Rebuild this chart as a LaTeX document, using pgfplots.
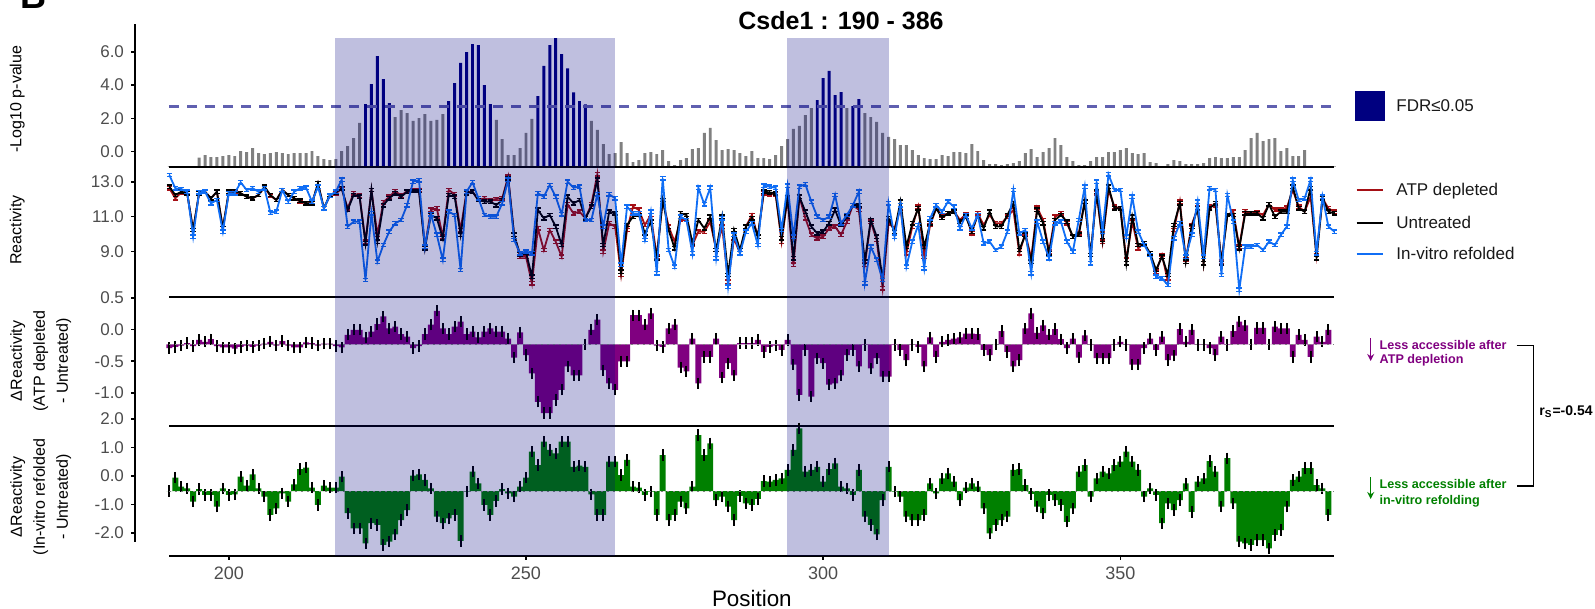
\documentclass[border=0pt]{standalone}
\usepackage{fontspec}
\setmainfont{Liberation Sans}
\usepackage{pgfplots}
\pgfplotsset{compat=1.18}
\usepackage{pgfplotstable}
\usetikzlibrary{arrows.meta}

\definecolor{navyc}{RGB}{0,0,128}
\definecolor{fdrgray}{RGB}{128,128,128}
\definecolor{atpred}{RGB}{165,15,21}
\definecolor{invblue}{RGB}{16,110,245}
\definecolor{purp}{RGB}{128,0,128}
\definecolor{grn}{RGB}{0,128,0}
\definecolor{thr}{RGB}{96,96,176}
\definecolor{ticklab}{RGB}{77,77,77}

% -log10 p-value bars (height above panel floor)
\pgfplotstableread{
p h
190 0.04
191 0.04
192 0.04
193 0.04
194 0.04
195 0.54
196 0.70
197 0.58
198 0.58
199 0.64
200 0.70
201 0.64
202 0.94
203 0.88
204 1.12
205 0.82
206 0.76
207 0.82
208 0.88
209 0.82
210 0.76
211 0.82
212 0.82
213 0.82
214 0.94
215 0.64
216 0.46
217 0.40
218 0.46
219 0.94
220 1.24
221 1.72
222 2.63
228 2.99
229 3.41
230 3.23
231 2.75
232 2.93
233 3.17
234 2.75
235 2.81
236 3.17
245 2.81
246 1.66
247 0.70
248 0.70
249 1.12
250 2.03
251 2.87
261 2.75
262 2.21
263 1.36
264 0.76
265 0.82
266 1.48
267 0.82
268 0.28
269 0.40
270 0.82
271 0.88
272 0.76
273 1.00
274 0.34
275 0.10
276 0.40
277 0.52
278 1.06
279 1.12
280 2.03
281 2.33
282 1.60
283 1.00
284 1.06
285 1.00
286 0.82
287 0.64
288 0.94
289 0.52
290 0.52
291 0.46
292 0.70
293 1.24
294 1.66
295 2.27
296 2.45
297 3.11
298 3.53
304 3.53
307 3.23
308 2.99
309 2.69
310 2.03
311 1.79
312 1.66
313 1.30
314 1.30
315 1.00
316 0.70
317 0.52
318 0.46
319 0.46
320 0.70
321 0.64
322 0.88
323 0.88
324 0.82
325 1.36
326 0.94
327 0.40
328 0.16
329 0.16
330 0.10
331 0.16
332 0.22
333 0.34
334 0.82
335 1.06
336 0.58
337 0.88
338 1.12
339 1.72
340 1.30
341 0.58
342 0.34
343 0.10
344 0.10
345 0.34
346 0.58
347 0.58
348 0.88
349 0.88
350 1.00
351 1.12
352 0.82
353 0.76
354 0.82
355 0.28
356 0.22
357 0.04
358 0.16
359 0.40
360 0.34
361 0.16
362 0.16
363 0.16
364 0.22
365 0.52
366 0.58
367 0.52
368 0.52
369 0.58
370 0.58
371 1.00
372 1.72
373 2.03
374 1.54
375 1.66
376 1.72
377 0.94
378 1.12
379 0.64
380 0.64
381 1.00
382 0.04
383 0.04
384 0.04
385 0.04
386 0.04
}\pgray

\pgfplotstableread{
p h
223 3.77
224 4.97
225 6.66
226 5.27
227 3.83
237 3.95
238 5.03
239 6.24
240 6.90
241 7.38
242 7.32
243 4.91
244 3.77
252 4.25
253 6.06
254 7.32
255 7.74
256 6.78
257 5.92
258 4.47
259 3.95
260 3.75
299 4.01
300 5.33
301 5.76
302 4.31
303 4.49
305 3.65
306 4.07
}\pnavy

% reactivity: b = untreated, r = ATP depleted, u = in-vitro refolded
\pgfplotstableread{
p b r u
190 12.73 12.64 13.40
191 12.25 12.06 12.64
192 12.44 12.40 12.60
193 12.35 12.35 12.44
194 10.23 10.23 9.85
195 12.35 12.35 12.40
196 12.44 12.44 12.44
197 12.06 12.06 11.77
198 12.44 12.44 11.96
199 10.33 10.33 10.14
200 12.44 12.40 12.35
201 12.48 12.44 12.35
202 12.35 12.35 12.98
203 12.15 12.15 12.54
204 12.06 12.06 12.64
205 12.25 12.25 12.44
206 12.73 12.69 12.64
207 12.25 12.21 11.23
208 11.96 11.96 11.29
209 12.54 12.54 12.54
210 12.25 12.25 11.87
211 12.06 12.06 12.44
212 11.91 11.87 12.64
213 11.77 11.77 12.67
214 11.77 11.77 11.87
215 12.92 12.92 12.73
216 11.48 11.48 11.48
217 12.25 12.21 12.21
218 12.40 12.35 12.44
219 12.64 12.60 13.13
220 11.39 11.48 10.43
221 12.25 12.35 10.71
222 12.15 12.21 10.71
223 9.47 9.56 7.35
224 12.54 12.54 11.19
225 9.56 9.95 8.41
226 11.67 11.83 9.37
227 12.06 12.15 10.14
228 12.35 12.48 10.62
229 12.15 12.21 10.81
230 12.44 12.48 11.67
231 12.48 12.54 13.02
232 12.48 12.54 13.10
233 9.18 9.27 9.27
234 11.10 11.39 11.14
235 10.91 11.48 9.95
236 9.75 9.85 8.51
237 12.25 12.54 11.29
238 12.15 12.29 11.10
239 9.95 10.23 7.93
240 12.35 12.44 12.44
241 12.44 12.44 12.98
242 11.96 11.96 12.06
243 11.87 12.06 11.10
244 11.87 11.96 11.00
245 11.67 12.02 11.00
246 11.96 12.06 11.77
247 13.21 13.31 13.13
248 9.95 9.95 9.66
249 8.83 8.70 8.89
250 8.95 8.70 8.99
251 7.54 7.16 8.89
252 11.39 10.33 12.35
253 10.91 9.08 12.15
254 11.10 10.23 12.83
255 10.43 9.56 12.15
256 9.37 8.70 11.14
257 12.15 11.71 13.02
258 11.77 11.19 12.67
259 11.96 11.29 12.73
260 10.91 10.91 10.81
261 11.58 11.71 10.81
262 13.12 13.44 12.29
263 9.37 8.99 10.43
264 11.29 10.62 12.29
265 11.19 10.43 12.06
266 7.83 7.64 8.22
267 10.52 10.23 11.58
268 11.00 11.58 11.19
269 11.10 11.39 11.19
270 10.04 10.52 9.66
271 10.71 11.10 11.29
272 8.60 8.70 7.74
273 11.96 11.96 13.21
274 10.23 10.43 9.08
275 9.18 9.56 8.12
276 11.19 10.81 11.00
277 11.10 10.81 10.81
278 9.47 9.37 8.89
279 10.81 10.14 12.67
280 10.33 10.14 11.71
281 11.00 10.71 12.67
282 9.08 9.08 8.60
283 11.00 10.43 10.91
284 7.64 7.26 6.97
285 10.23 9.75 9.95
286 9.08 8.89 8.89
287 10.43 10.43 10.14
288 10.91 11.10 10.62
289 9.85 9.85 9.37
290 12.44 12.35 12.79
291 12.40 12.29 12.73
292 12.35 12.29 12.67
293 9.75 9.56 10.23
294 12.12 12.06 12.79
295 8.60 8.22 9.85
296 12.15 12.15 12.73
297 11.29 10.91 12.87
298 10.43 9.95 11.87
299 10.04 9.75 11.00
300 10.14 9.85 10.81
301 10.62 10.33 11.00
302 11.39 10.43 12.25
303 10.52 9.95 10.62
304 11.00 10.71 11.10
305 11.67 11.67 11.67
306 11.67 11.39 12.44
307 8.41 8.22 7.16
308 10.81 10.71 9.27
309 9.85 9.66 8.51
310 7.35 6.87 7.35
311 10.91 10.62 11.77
312 10.14 10.33 9.85
313 11.87 11.48 11.67
314 9.27 8.89 8.12
315 10.62 10.43 9.56
316 11.48 11.58 10.52
317 9.27 8.70 8.02
318 10.62 10.52 10.91
319 11.48 11.48 11.67
320 10.94 11.06 11.29
321 11.19 11.19 11.87
322 11.29 11.33 11.58
323 10.71 10.81 10.33
324 11.00 11.14 11.10
325 10.14 10.04 10.33
326 11.10 11.19 11.10
327 10.33 10.52 9.47
328 11.29 11.10 9.56
329 10.43 10.62 9.08
330 10.43 10.62 9.27
331 11.10 11.00 10.14
332 11.77 11.39 12.54
333 9.08 8.89 10.04
334 9.95 10.04 10.23
335 8.41 8.60 7.74
336 11.39 11.52 10.71
337 10.62 10.81 9.56
338 8.89 8.99 8.60
339 10.81 11.00 10.62
340 11.10 11.19 10.71
341 10.71 10.62 9.56
342 9.85 9.85 8.99
343 9.95 10.04 10.81
344 11.87 11.87 12.73
345 8.79 8.79 8.31
346 12.44 12.35 13.02
347 9.66 9.56 10.14
348 12.73 12.54 13.44
349 11.48 11.58 12.54
350 11.48 11.48 12.54
351 8.31 8.51 9.85
352 11.00 10.71 12.15
353 9.37 9.18 10.14
354 9.47 9.47 9.37
355 8.89 8.79 8.79
356 7.93 7.83 7.54
357 8.70 8.79 7.45
358 7.64 7.26 7.06
359 10.52 10.23 9.75
360 11.77 11.87 10.62
361 8.41 8.51 8.70
362 10.43 10.52 9.95
363 11.48 11.52 11.87
364 8.31 8.31 8.70
365 11.48 11.58 12.64
366 11.77 11.67 12.54
367 8.31 8.41 7.64
368 11.10 11.10 12.25
369 11.10 11.29 10.71
370 9.18 9.27 6.78
371 11.19 11.33 9.27
372 11.19 11.19 9.27
373 11.19 11.25 9.37
374 10.91 11.10 9.08
375 11.71 11.71 9.56
376 11.00 11.39 9.37
377 11.29 11.39 9.95
378 11.29 11.52 10.43
379 12.73 12.54 13.12
380 11.48 11.58 11.96
381 11.29 11.29 12.06
382 12.64 12.15 13.12
383 8.60 8.79 8.89
384 12.06 12.06 12.15
385 11.29 11.48 10.43
386 11.19 11.29 10.14
}\reac

% delta reactivity, ATP depleted - untreated (height from bar baseline)
\pgfplotstableread{
p d
190 -0.06
191 -0.04
192 -0.02
193 0.02
194 -0.03
195 0.07
196 0.04
197 0.08
198 -0.03
199 -0.05
200 -0.05
201 -0.07
202 -0.04
203 -0.02
204 -0.04
205 -0.02
206 0.01
207 0.04
208 -0.02
209 0.05
210 -0.02
211 -0.05
212 -0.05
213 0.03
214 0.02
215 -0.02
216 0.01
217 0.01
218 -0.03
219 -0.05
220 0.15
221 0.23
222 0.23
223 0.11
224 0.20
225 0.32
226 0.44
227 0.25
228 0.28
229 0.16
230 0.12
231 -0.06
232 -0.03
233 0.16
234 0.31
235 0.53
236 0.25
237 0.16
238 0.28
239 0.36
240 0.16
241 0.20
242 0.11
243 0.20
244 0.25
245 0.20
246 0.20
247 0.09
248 -0.21
249 0.19
250 -0.17
251 -0.46
252 -0.91
253 -1.09
254 -1.09
255 -0.88
256 -0.72
257 -0.35
258 -0.49
259 -0.49
260 0.00
261 0.23
262 0.39
263 -0.41
264 -0.62
265 -0.72
266 -0.27
267 -0.27
268 0.46
269 0.46
270 0.31
271 0.49
272 -0.02
273 -0.04
274 0.25
275 0.31
276 -0.37
277 -0.43
278 0.09
279 -0.62
280 -0.20
281 -0.20
282 0.09
283 -0.53
284 -0.30
285 -0.49
286 0.02
287 0.02
288 0.02
289 0.07
290 -0.12
291 -0.04
292 -0.02
293 -0.09
294 0.07
295 -0.32
296 -0.80
297 -0.09
298 -0.83
299 -0.22
300 -0.30
301 -0.64
302 -0.62
303 -0.49
304 -0.17
305 -0.09
306 -0.35
307 -0.01
308 -0.38
309 -0.22
310 -0.51
311 -0.51
312 -0.01
313 -0.09
314 -0.25
315 -0.01
316 -0.04
317 -0.35
318 0.11
319 -0.20
320 0.04
321 0.07
322 0.09
323 0.11
324 0.17
325 0.17
326 0.16
327 -0.09
328 -0.17
329 0.00
330 0.21
331 -0.12
332 -0.35
333 -0.25
334 0.25
335 0.49
336 0.18
337 0.30
338 0.15
339 0.24
340 0.08
341 -0.06
342 0.09
343 -0.21
344 0.14
345 -0.01
346 -0.22
347 -0.22
348 -0.22
349 -0.01
350 0.04
351 -0.01
352 -0.32
353 -0.32
354 -0.06
355 0.09
356 -0.09
357 0.12
358 -0.25
359 -0.18
360 0.24
361 0.04
362 0.23
363 -0.01
364 -0.01
365 -0.06
366 -0.17
367 0.12
368 -0.01
369 0.21
370 0.36
371 0.30
372 0.00
373 0.26
374 0.26
375 0.00
376 0.28
377 0.25
378 0.25
379 -0.20
380 0.15
381 0.07
382 -0.20
383 0.12
384 0.04
385 0.23
}\datp

% delta reactivity, in-vitro refolded - untreated (height from bar baseline)
\pgfplotstableread{
p g
190 0.00
191 0.47
192 0.15
193 0.09
194 -0.37
195 0.07
196 -0.14
197 -0.14
198 -0.55
199 0.09
200 -0.14
201 -0.12
202 0.50
203 0.19
204 0.58
205 0.09
206 -0.20
207 -0.84
208 -0.61
209 -0.08
210 -0.37
211 0.23
212 0.77
213 0.82
214 0.12
215 -0.49
216 0.19
217 0.12
218 0.12
219 0.50
220 -0.78
221 -1.31
222 -1.31
223 -1.84
224 -1.13
225 -1.19
226 -1.89
227 -1.78
228 -1.52
229 -1.02
230 -0.67
231 0.54
232 0.58
233 0.39
234 0.09
235 -0.90
236 -1.13
237 -0.96
238 -0.84
239 -1.75
240 -0.02
241 0.68
242 0.27
243 -0.49
244 -0.84
245 -0.35
246 0.07
247 -0.08
248 -0.20
249 0.15
250 0.47
251 1.38
252 0.91
253 1.73
254 1.44
255 1.32
256 1.73
257 1.73
258 0.85
259 0.89
260 0.85
261 -0.12
262 -0.84
263 -0.84
264 1.03
265 1.03
266 0.56
267 1.09
268 0.15
269 0.12
270 -0.14
271 -0.02
272 -0.84
273 1.26
274 -1.02
275 -0.84
276 -0.37
277 -0.61
278 0.15
279 1.96
280 1.26
281 1.67
282 -0.32
283 -0.20
284 -0.55
285 -1.02
286 -0.17
287 -0.43
288 -0.49
289 -0.28
290 0.35
291 0.33
292 0.39
293 0.44
294 0.74
295 1.44
296 2.20
297 0.68
298 0.74
299 0.85
300 0.33
301 0.77
302 0.97
303 0.15
304 0.09
305 -0.14
306 0.74
307 -0.90
308 -1.19
309 -1.52
310 -0.32
311 0.85
312 -0.02
313 -0.20
314 -0.90
315 -1.02
316 -1.02
317 -0.84
318 0.27
319 -0.08
320 0.44
321 0.62
322 0.33
323 -0.32
324 0.12
325 0.27
326 0.15
327 -0.61
328 -1.49
329 -1.19
330 -1.02
331 -0.90
332 0.74
333 0.77
334 0.21
335 -0.10
336 -0.55
337 -0.78
338 -0.14
339 -0.32
340 -0.49
341 -1.08
342 -0.61
343 0.68
344 0.91
345 -0.20
346 0.44
347 0.68
348 0.62
349 0.91
350 1.03
351 1.38
352 1.03
353 0.74
354 -0.20
355 0.09
356 -0.14
357 -1.13
358 -0.43
359 -0.67
360 -0.32
361 0.27
362 -0.73
363 0.33
364 0.44
365 1.05
366 0.68
367 -0.55
368 1.15
369 -0.43
370 -1.78
371 -1.84
372 -1.89
373 -1.72
374 -1.72
375 -2.01
376 -1.54
377 -1.37
378 -0.55
379 0.39
380 0.50
381 0.80
382 0.80
383 0.21
384 0.09
385 -0.84
}\dinv

\begin{document}
\begin{tikzpicture}
% fixed page: 1595 x 609 px at 0.5pt per px
\path[use as bounding box] (0pt,0pt) rectangle (797.5pt,-304.5pt);
\pgfplotsset{
  panel/.style={
    scale only axis, width=599.5pt, xmin=184.22, xmax=385.94, clip=false,
    anchor=north west,
    axis y line*=left,
    axis line style={-, line width=0.9pt, black},
    tick align=outside, major tick length=2pt,
    ytick style={line width=0.8pt, black},
    xtick style={line width=0.8pt, black},
    tick label style={font=\fontsize{8.5}{10}\selectfont, text=ticklab},
  },
}

% ---------- panel 1: -log10 p-value ----------
\begin{axis}[panel, axis x line=none, at={(67.5pt,-12pt)}, height=71.35pt,
  ymin=0, ymax=8.586, ytick={0.909,2.909,4.909,6.909}, yticklabels={0.0,2.0,4.0,6.0}]
\addplot[ybar, bar width=0.5, bar shift=0pt, fill=fdrgray, draw=none] table[x=p,y=h]{\pgray};
\addplot[ybar, bar width=0.5, bar shift=0pt, fill=navyc, draw=none] table[x=p,y=h]{\pnavy};
\draw[thr, line width=1.2pt, dash pattern=on 5pt off 4pt] (axis cs:190,3.61) -- (axis cs:386,3.61);
\draw[black, line width=1pt] (axis cs:190,0) -- (axis cs:386,0);
\fill[navyc, opacity=0.25] (axis cs:217.85,0) rectangle (axis cs:264.9,7.762);
\fill[navyc, opacity=0.25] (axis cs:293.9,0) rectangle (axis cs:311.1,7.762);
\end{axis}

% ---------- panel 2: reactivity ----------
\begin{axis}[panel, axis x line=none, at={(67.5pt,-83.35pt)}, height=65pt,
  ymin=6.389, ymax=13.882, ytick={9,11,13}, yticklabels={9.0,11.0,13.0}]
\addplot[atpred, line width=0.9pt, mark=none,
  error bars/.cd, y dir=both, y fixed=0.1, error bar style={line width=0.7pt},
  error mark options={rotate=90, mark size=1.4pt, line width=0.7pt}] table[x=p,y=r]{\reac};
\addplot[black, line width=0.9pt, mark=none,
  error bars/.cd, y dir=both, y fixed=0.1, error bar style={line width=0.7pt},
  error mark options={rotate=90, mark size=1.4pt, line width=0.7pt}] table[x=p,y=b]{\reac};
\addplot[invblue, line width=0.9pt, mark=none,
  error bars/.cd, y dir=both, y fixed=0.1, error bar style={line width=0.7pt},
  error mark options={rotate=90, mark size=1.4pt, line width=0.7pt}] table[x=p,y=u]{\reac};
\draw[black, line width=1pt] (axis cs:190,6.389) -- (axis cs:386,6.389);
\fill[navyc, opacity=0.25] (axis cs:217.85,6.389) rectangle (axis cs:264.9,13.882);
\fill[navyc, opacity=0.25] (axis cs:293.9,6.389) rectangle (axis cs:311.1,13.882);
\end{axis}

% ---------- panel 3: delta ATP depleted ----------
\begin{axis}[panel, axis x line=none, at={(67.5pt,-148.35pt)}, height=64.65pt,
  ymin=-1.293, ymax=0.753, ytick={-0.769,-0.268,0.233,0.733}, yticklabels={-1.0,-0.5,0.0,0.5}]
\addplot[ybar, bar width=1, bar shift=0pt, fill=purp, draw=none,
  error bars/.cd, y dir=both, y fixed=0.09, error mark=none,
  error bar style={line width=1pt, black}] table[x=p,y=d]{\datp};
\draw[gray, line width=0.5pt, dash pattern=on 1pt off 2pt] (axis cs:190,0) -- (axis cs:386,0);
\draw[black, line width=1pt] (axis cs:190,-1.293) -- (axis cs:386,-1.293);
\fill[navyc, opacity=0.25] (axis cs:217.85,-1.293) rectangle (axis cs:264.9,0.753);
\fill[navyc, opacity=0.25] (axis cs:293.9,-1.293) rectangle (axis cs:311.1,0.753);
\end{axis}

% ---------- panel 4: delta in-vitro refolded ----------
\begin{axis}[panel, at={(67.5pt,-209pt)}, height=68.85pt,
  axis x line*=bottom, x axis line style={shorten <=17pt},
  y axis line style={shorten <=7pt},
  xtick={200,250,300,350}, xticklabels={200,250,300,350},
  xticklabel style={font=\fontsize{9}{10}\selectfont, text=ticklab},
  ymin=-2.270, ymax=2.561, ytick={-1.474,-0.474,0.526,1.526,2.526}, yticklabels={-2.0,-1.0,0.0,1.0,2.0}]
\addplot[ybar, bar width=1, bar shift=0pt, fill=grn, draw=none,
  error bars/.cd, y dir=both, y fixed=0.2, error mark=none,
  error bar style={line width=1pt, black}] table[x=p,y=g]{\dinv};
\draw[gray, line width=0.5pt, dash pattern=on 1pt off 2pt] (axis cs:190,0) -- (axis cs:386,0);
\fill[navyc, opacity=0.25] (axis cs:217.85,-2.270) rectangle (axis cs:264.9,2.281);
\fill[navyc, opacity=0.25] (axis cs:293.9,-2.270) rectangle (axis cs:311.1,2.281);
\node[font=\fontsize{11.2}{13}\selectfont, inner sep=0pt, yshift=-21.2pt] at (axis cs:288,-2.270) {Position};
\end{axis}

% ---------- annotations in pixel units ----------
\begin{scope}[x=0.5pt, y=-0.5pt]
\node[font=\bfseries\fontsize{18}{20}\selectfont, anchor=base] at (33,9) {B};
\node[font=\bfseries\fontsize{12.5}{15}\selectfont] at (841,20.3) {Csde1 : 190 - 386};

\node[rotate=90, font=\fontsize{8}{11.5}\selectfont] at (17.3,99) {-Log10 p-value};
\node[rotate=90, font=\fontsize{8}{11.5}\selectfont] at (17.3,230) {Reactivity};
\node[rotate=90, align=center, font=\fontsize{8}{11.5}\selectfont] at (40.7,361) {ΔReactivity\\(ATP depleted\\- Untreated)};
\node[rotate=90, align=center, font=\fontsize{8}{11.5}\selectfont] at (40.7,497) {ΔReactivity\\(In-vitro refolded\\- Untreated)};

% legend
\fill[navyc] (1355,91) rectangle (1385,121);
\node[anchor=base west, inner sep=0, font=\fontsize{8.5}{10}\selectfont, text=black!90] at (1396,112) {FDR≤0.05};
\draw[atpred, line width=1pt] (1356.7,190) -- (1382.7,190);
\node[anchor=base west, inner sep=0, font=\fontsize{8.5}{10}\selectfont, text=black!90] at (1396,196) {ATP depleted};
\draw[black, line width=1pt] (1356.7,222.7) -- (1382.7,222.7);
\node[anchor=base west, inner sep=0, font=\fontsize{8.5}{10}\selectfont, text=black!90] at (1396,228.7) {Untreated};
\draw[invblue, line width=1pt] (1356.7,254) -- (1382.7,254);
\node[anchor=base west, inner sep=0, font=\fontsize{8.5}{10}\selectfont, text=black!90] at (1396,260) {In-vitro refolded};

% direction notes
\draw[purp, line width=0.7pt, -{Stealth[length=3.5pt, width=3.5pt]}] (1370.7,338) -- (1370.7,361);
\node[anchor=base west, inner sep=0, font=\bfseries\fontsize{6.3}{7.5}\selectfont, text=purp] at (1379.3,349.5) {Less accessible after};
\node[anchor=base west, inner sep=0, font=\bfseries\fontsize{6.3}{7.5}\selectfont, text=purp] at (1379.3,363.8) {ATP depletion};
\draw[grn, line width=0.7pt, -{Stealth[length=3.5pt, width=3.5pt]}] (1370.7,477) -- (1370.7,499);
\node[anchor=base west, inner sep=0, font=\bfseries\fontsize{6.3}{7.5}\selectfont, text=grn] at (1379.3,488.5) {Less accessible after};
\node[anchor=base west, inner sep=0, font=\bfseries\fontsize{6.3}{7.5}\selectfont, text=grn] at (1379.3,504) {in-vitro refolding};
\draw[black, line width=0.6pt] (1516.7,345.7) -- (1533.3,345.7) -- (1533.3,486) -- (1516.7,486);
\node[anchor=west, inner sep=0, font=\bfseries\fontsize{7}{8}\selectfont] at (1539,411.7) {r\textsubscript{S}=-0.54};
\end{scope}
\end{tikzpicture}
\end{document}
